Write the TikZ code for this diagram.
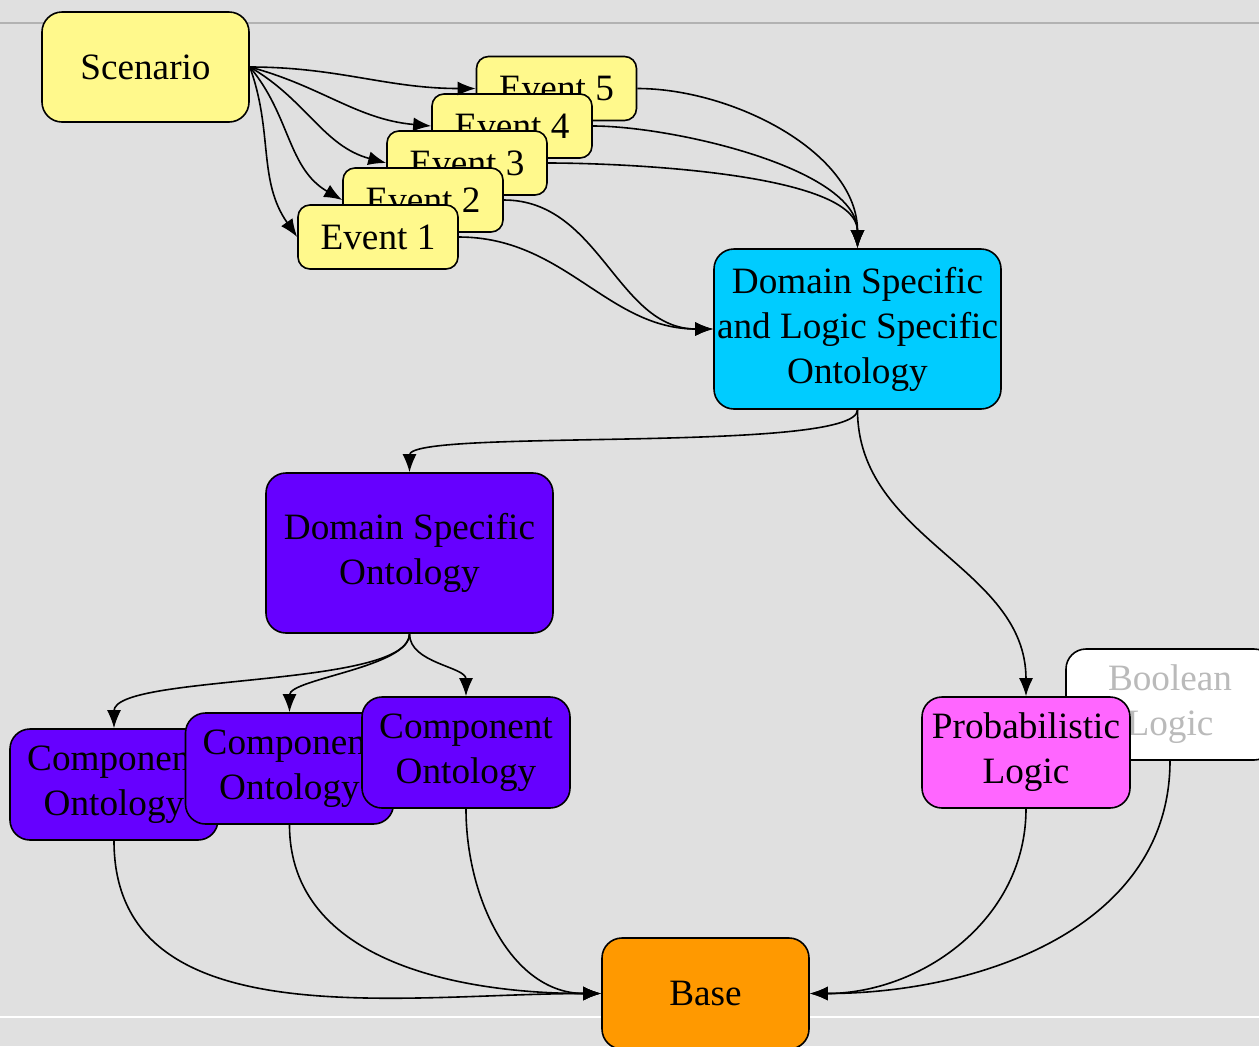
\documentclass[tikz,border=0pt]{standalone}
\usepackage{fontspec}
\setmainfont{Liberation Serif}
\usetikzlibrary{arrows.meta}

\begin{document}
\begin{tikzpicture}[x=0.5pt,y=-0.5pt,
            box/.style={draw, thick, rounded corners=10pt, align=center, inner sep=0pt,
                font=\fontsize{18.6}{22.5}\selectfont},
            scen/.style={box, fill=yellow!45, minimum width=103.5pt, minimum height=55pt},
            ev/.style={box, fill=yellow!45, rounded corners=6pt, minimum width=80pt, minimum height=32pt},
            big/.style={box, minimum width=143.5pt, minimum height=80pt},
            comp/.style={box, fill=ontcol, minimum width=104pt, minimum height=55.5pt},
            link/.style={-{Latex[length=9pt,width=7pt]}, thick},
        ]
        \definecolor{ontcol}{HTML}{6600FF}
        \useasboundingbox (0,0) rectangle (1259,1046);
        \fill[black!12] (0,0) rectangle (1259,1046);
        \draw[black!30, thick] (0,23) -- (1259,23);
        \draw[white, thick] (0,1017) -- (1259,1017);
        % events
        \node[scen] (scen) at (145.5,67) {Scenario};
        \node[ev] (ev5) at (556.5,88.5) {Event 5};
        \node[ev] (ev4) at (512,126) {Event 4};
        \node[ev] (ev3) at (467,163) {Event 3};
        \node[ev] (ev2) at (423,200) {Event 2};
        \node[ev] (ev1) at (378,237) {Event 1};
        % ontologies
        \node[big, fill={rgb,255:red,0;green,204;blue,255}] (dls) at (857.5,329)
            {Domain Specific\\and Logic Specific\\Ontology};
        \node[big, fill=ontcol] (dso) at (409.5,553) {Domain Specific\\Ontology};
        \node[comp] (co1) at (114,784.5) {Component\\Ontology};
        \node[comp] (co2) at (289.5,768.5) {Component\\Ontology};
        \node[comp] (co3) at (466,752.5) {Component\\Ontology};
        % logics
        \node[box, fill=white, text=black!27, minimum width=104pt, minimum height=55.5pt]
            (bool) at (1170,704.5) {Boolean\\Logic};
        \node[box, fill={rgb,255:red,255;green,102;blue,255}, minimum width=104pt, minimum height=55.5pt]
            (prob) at (1026,752.5) {Probabilistic\\Logic};
        \node[box, fill={rgb,255:red,255;green,153;blue,0}, minimum width=103.5pt, minimum height=55.5pt]
            (base) at (705.5,993.5) {Base};
        % links
        \foreach \e/\o/\i in {ev1/-70/125, ev2/-50/150, ev3/-30/165, ev4/-15/175, ev5/0/180}
            \draw[link] (scen.east) to[out=\o, in=\i] (\e.west);
        \foreach \e/\l in {ev3/0.6, ev4/0.7, ev5/0.9}
            \draw[link] (\e.east) to[out=0, in=90, looseness=\l] (dls.north);
        \foreach \e in {ev1,ev2}
            \draw[link] (\e.east) to[out=0, in=180] (dls.west);
        \draw[link] (dls.south) to[out=-90, in=90, looseness=0.25] (dso.north);
        \draw[link] (dls.south) to[out=-90, in=90] (prob.north);
        \foreach \c/\l in {co1/0.45, co2/0.6, co3/0.9} {
            \draw[link] (dso.south) to[out=-90, in=90, looseness=\l] (\c.north);
            \draw[link] (\c.south) to[out=-90, in=180] (base.west);
        }
        \draw[link] (prob.south) to[out=-90, in=0] (base.east);
        \draw[link] (bool.south) to[out=-90, in=0] (base.east);
    \end{tikzpicture}
\end{document}
